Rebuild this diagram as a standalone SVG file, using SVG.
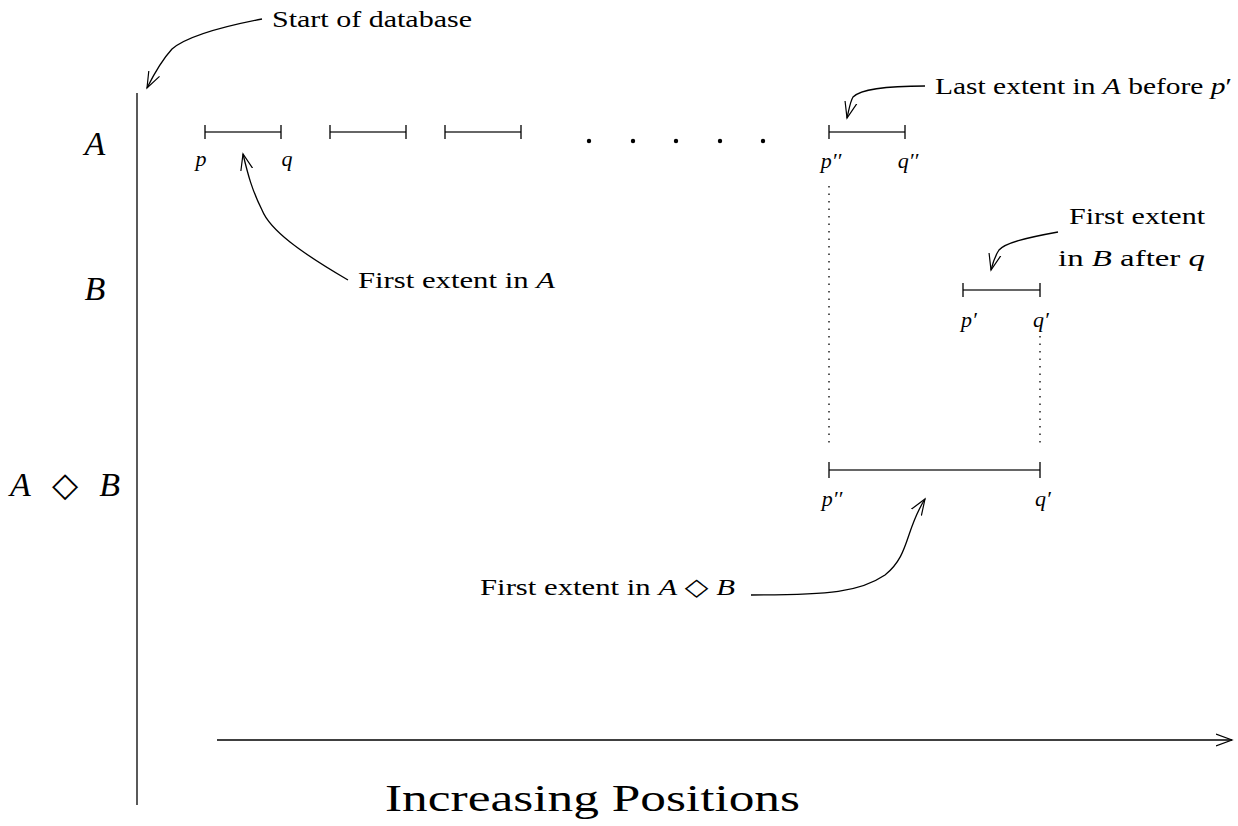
<svg xmlns="http://www.w3.org/2000/svg" width="1238" height="826" viewBox="0 0 1238 826">
<style>
text{font-family:"Liberation Serif","DejaVu Serif",serif;fill:#000}
.lbl{font-size:24px}
.big{font-size:34px;font-style:italic}
.m{font-style:italic}
.pl{font-size:22px;font-style:italic}
.seg{stroke:#333;stroke-width:1.6;fill:none}
.tick{stroke:#000;stroke-width:1.3}
.ln{stroke:#000;stroke-width:1.3;fill:none}
.dot{stroke:#000;stroke-width:1.3;stroke-dasharray:1.5 6;fill:none}
</style>
<defs>
<marker id="ah" markerWidth="20" markerHeight="20" refX="16" refY="8" orient="auto" markerUnits="userSpaceOnUse">
<path d="M0,2 L16,8 L0,14" fill="none" stroke="#000" stroke-width="1.2"/>
</marker>
</defs>
<g id="axes">
<line class="ln" x1="137" y1="93" x2="137" y2="805"/>
<line class="ln" x1="217" y1="740" x2="1232" y2="740" marker-end="url(#ah)"/>
<text x="385" y="811" font-size="38" textLength="415" lengthAdjust="spacingAndGlyphs">Increasing Positions</text>
</g>
<g id="row-labels">
<text class="big" x="95" y="155" text-anchor="middle">A</text>
<text class="big" x="95" y="300" text-anchor="middle">B</text>
<text x="10" y="496" font-size="34" textLength="110" lengthAdjust="spacing"><tspan class="m">A</tspan> ◇ <tspan class="m">B</tspan></text>
</g>
<g id="extents-A">
<line class="seg" x1="205" y1="132" x2="281" y2="132"/><line class="tick" x1="205" y1="125" x2="205" y2="139"/><line class="tick" x1="281" y1="125" x2="281" y2="139"/>
<line class="seg" x1="330" y1="132" x2="406" y2="132"/><line class="tick" x1="330" y1="125" x2="330" y2="139"/><line class="tick" x1="406" y1="125" x2="406" y2="139"/>
<line class="seg" x1="445" y1="132" x2="521" y2="132"/><line class="tick" x1="445" y1="125" x2="445" y2="139"/><line class="tick" x1="521" y1="125" x2="521" y2="139"/>
<line class="seg" x1="829" y1="132" x2="905" y2="132"/><line class="tick" x1="829" y1="125" x2="829" y2="139"/><line class="tick" x1="905" y1="125" x2="905" y2="139"/>
<circle cx="589" cy="141" r="2.2"/><circle cx="633" cy="141" r="2.2"/><circle cx="676" cy="141" r="2.2"/><circle cx="720" cy="141" r="2.2"/><circle cx="763" cy="141" r="2.2"/>
<text class="pl" x="201" y="166" text-anchor="middle">p</text>
<text class="pl" x="287" y="166" text-anchor="middle">q</text>
<text class="pl" x="831" y="168" text-anchor="middle">p′′</text>
<text class="pl" x="908" y="168" text-anchor="middle">q′′</text>
</g>
<g id="extent-B">
<line class="seg" x1="963" y1="290" x2="1040" y2="290"/><line class="tick" x1="963" y1="283" x2="963" y2="297"/><line class="tick" x1="1040" y1="283" x2="1040" y2="297"/>
<text class="pl" x="969" y="327" text-anchor="middle">p′</text>
<text class="pl" x="1041" y="327" text-anchor="middle">q′</text>
</g>
<g id="extent-AB">
<line class="seg" x1="829" y1="470" x2="1040" y2="470"/><line class="tick" x1="829" y1="462" x2="829" y2="478"/><line class="tick" x1="1040" y1="462" x2="1040" y2="478"/>
<text class="pl" x="832" y="506" text-anchor="middle">p′′</text>
<text class="pl" x="1043" y="506" text-anchor="middle">q′</text>
</g>
<g id="connectors">
<line class="dot" x1="829" y1="186" x2="829" y2="446"/>
<line class="dot" x1="1040" y1="336" x2="1040" y2="446"/>
<path class="ln" d="M262,19 C215,28 185,38 172,49 C162,60 154,74 147,88" marker-end="url(#ah)"/>
<path class="ln" d="M925,86 C880,86 860,90 853,97 C850,102 849,110 847,118" marker-end="url(#ah)"/>
<path class="ln" d="M1058,232 C1025,238 1005,243 999,250 C995,256 993,262 991,270" marker-end="url(#ah)"/>
<path class="ln" d="M348,280 C300,252 270,230 262,210 C252,190 248,175 243,154" marker-end="url(#ah)"/>
<path class="ln" d="M751,595 C830,595 860,592 885,575 C910,555 905,530 925,499" marker-end="url(#ah)"/>
</g>
<g id="annotations">
<text class="lbl" x="272" y="27" textLength="200" lengthAdjust="spacingAndGlyphs">Start of database</text>
<text class="lbl" x="935" y="94" textLength="297" lengthAdjust="spacingAndGlyphs">Last extent in <tspan class="m">A</tspan> before <tspan class="m">p</tspan>′</text>
<text class="lbl" x="1069" y="224" textLength="136" lengthAdjust="spacingAndGlyphs">First extent</text>
<text class="lbl" x="1058" y="266" textLength="147" lengthAdjust="spacingAndGlyphs">in <tspan class="m">B</tspan> after <tspan class="m">q</tspan></text>
<text class="lbl" x="358" y="288" textLength="197" lengthAdjust="spacingAndGlyphs">First extent in <tspan class="m">A</tspan></text>
<text class="lbl" x="480" y="595" textLength="255" lengthAdjust="spacingAndGlyphs">First extent in <tspan class="m">A</tspan> ◇ <tspan class="m">B</tspan></text>
</g>
</svg>
